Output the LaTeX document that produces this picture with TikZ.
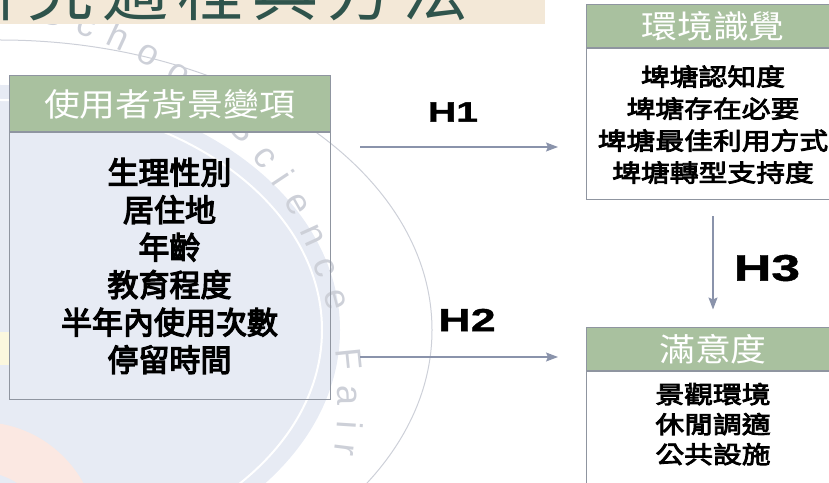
\documentclass[tikz,border=0pt]{standalone}
\usepackage{fontspec}
\usetikzlibrary{positioning,arrows.meta,decorations.text}

\newfontfamily\headfont[FakeStretch=1.12]{Noto Sans CJK TC}
\newfontfamily\cjkfont[FakeBold=4]{Noto Sans CJK TC}
\newfontfamily\cjkwide[FakeStretch=1.2,FakeBold=3.5]{Noto Sans CJK TC}
\newfontfamily\titlefont[LetterSpace=13.6]{Noto Sans CJK TC}
\newfontfamily\hypfont[FakeStretch=1.4,FakeBold=1.2]{Liberation Sans}
\newfontfamily\markfont{Liberation Sans}

\definecolor{headgreen}{HTML}{A9C19F}
\definecolor{boxgrey}{HTML}{8F95A0}
\definecolor{arrowgrey}{HTML}{8A93AB}
\definecolor{markblue}{HTML}{E7EBF4}
\definecolor{markpink}{HTML}{FBE8E2}
\definecolor{markyellow}{HTML}{FBF7DE}
\definecolor{markgrey}{HTML}{CDD0D8}
\definecolor{bannerbeige}{HTML}{F3E8D7}
\definecolor{titleteal}{HTML}{2F544C}

\tikzstyle{head}=[rectangle,draw=boxgrey,line width=1pt,fill=headgreen,text=white,inner sep=0pt]
\tikzstyle{body}=[rectangle,draw=boxgrey,line width=1pt,align=center,inner xsep=0pt,anchor=north]
\tikzstyle{hyp}=[draw=arrowgrey,line width=1.4pt,-{Stealth[length=12pt,width=9pt,inset=2pt]}]
\tikzstyle{hyp label}=[font=\hypfont\bfseries]

\begin{document}
\begin{tikzpicture}[x=1pt,y=1pt]
    \useasboundingbox (0,0) rectangle (829,482);
    \clip (0,0) rectangle (829,482);
    % Watermark in the back
    \fill[markblue] (0,152) ellipse [x radius=340, y radius=245];
    \draw[white,line width=2pt] (0,152) ellipse [x radius=322, y radius=230];
    \draw[markgrey,line width=1pt] (0,152) ellipse [x radius=432, y radius=290];
    \draw[markpink,line width=50pt] (-20,-58) circle [radius=93];
    \fill[markyellow] (0,117) rectangle (9,150);
    \path[decorate,decoration={text along path,text color=markgrey,text align={fit to path},
        text={|\markfont\fontsize{36}{36}\selectfont|School Science Fair}}]
        (37.3,460.1) arc [start angle=77, end angle=-8, radius=388];
    % Title banner
    \fill[bannerbeige] (0,458) rectangle (545,482);
    \node[anchor=base west,inner sep=0pt,text=titleteal,font=\titlefont\fontsize{66}{66}\selectfont]
        (title) at (-48,466) {研究過程與方法};
    % Draw the boxes
    \node[head,minimum width=321pt,minimum height=56pt,font=\headfont\fontsize{32}{32}\selectfont]
        (bghead) at (169.5,378) {使用者背景變項};
    \node[body,minimum width=321pt,minimum height=266pt,font=\cjkfont\fontsize{31}{37.5}\selectfont]
        (bgbody) at (bghead.south) {生理性別\\居住地\\年齡\\教育程度\\半年內使用次數\\停留時間};
    \node[head,minimum width=254pt,minimum height=43pt,font=\headfont\fontsize{32}{32}\selectfont]
        (envhead) at (713,455.5) {環境識覺};
    \node[body,minimum width=254pt,minimum height=151pt,font=\cjkwide\fontsize{24}{32}\selectfont]
        (envbody) at (envhead.south) {埤塘認知度\\埤塘存在必要\\埤塘最佳利用方式\\埤塘轉型支持度};
    \node[head,minimum width=254pt,minimum height=42pt,font=\headfont\fontsize{32}{32}\selectfont]
        (sathead) at (713,133) {滿意度};
    \node[body,minimum width=254pt,inner ysep=12pt,font=\cjkwide\fontsize{24}{30}\selectfont]
        (satbody) at (sathead.south) {景觀環境\\休閒調適\\公共設施\rule[-30pt]{0pt}{0pt}};
    % Hypotheses
    \coordinate (h1from) at (360,335);
    \coordinate (h1to) at (558,335);
    \coordinate (h2from) at (360,125);
    \coordinate (h2to) at (558,125);
    \path[hyp] (h1from) -- (h1to);
    \path[hyp] (h2from) -- (h2to);
    \path[hyp,shorten <=16pt,shorten >=18pt] (envbody.south) -- (sathead.north);
    \node[hyp label,font=\hypfont\bfseries\fontsize{28}{28}\selectfont] (h1) at (453,370) {H1};
    \node[hyp label,font=\hypfont\bfseries\fontsize{32}{32}\selectfont] (h2) at (467,162) {H2};
    \node[hyp label,font=\hypfont\bfseries\fontsize{37}{37}\selectfont] (h3) at (767,214) {H3};
\end{tikzpicture}
\end{document}
